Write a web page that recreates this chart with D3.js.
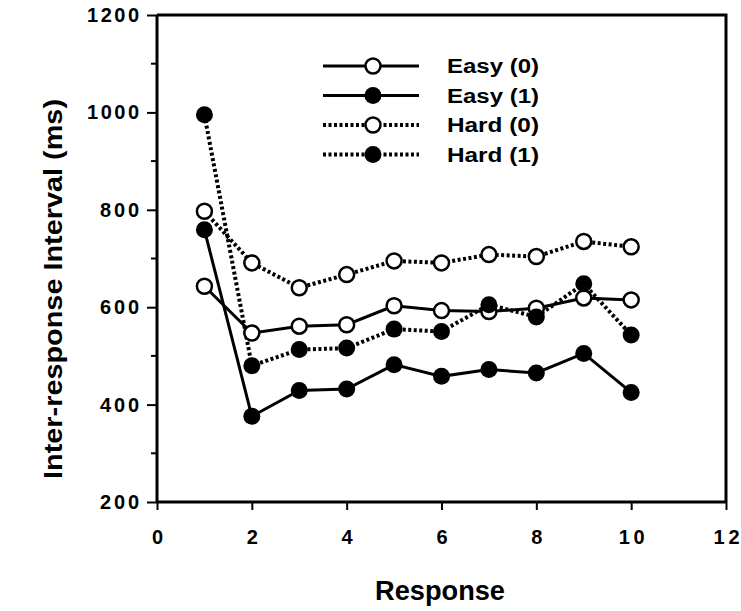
<!DOCTYPE html>
<html>
<head>
<meta charset="utf-8">
<script src="https://cdn.jsdelivr.net/npm/d3@7"></script>
<style>
  body { margin: 0; background: #fff; }
  text { font-family: "Liberation Sans", Arial, sans-serif; font-weight: bold; fill: #000; }
</style>
</head>
<body>
<svg id="chart" width="741" height="611"></svg>
<script>
// response number 1..10
const responses = [1, 2, 3, 4, 5, 6, 7, 8, 9, 10];

// inter-response intervals (ms)
const easy0 = [643, 547, 561, 564, 603, 593, 591, 598, 619, 615];
const easy1 = [759, 376, 429, 432, 482, 458, 472, 465, 505, 425];
const hard0 = [797, 691, 640, 667, 695, 691, 708, 704, 735, 724];
const hard1 = [995, 480, 513, 516, 555, 550, 605, 580, 648, 543];

const seriesNames = ["Easy (0)", "Easy (1)", "Hard (0)", "Hard (1)"];
const xTicks = [0, 2, 4, 6, 8, 10, 12];
const yTicks = [200, 400, 600, 800, 1000, 1200];
const yMinor = [300, 500, 700, 900, 1100];

const series = [
  {name: seriesNames[0], values: easy0, filled: false, dotted: false},
  {name: seriesNames[1], values: easy1, filled: true, dotted: false},
  {name: seriesNames[2], values: hard0, filled: false, dotted: true},
  {name: seriesNames[3], values: hard1, filled: true, dotted: true}
];

const svg = d3.select("#chart");
const pLeft = 157, pRight = 726, pTop = 15, pBottom = 502;

const x = d3.scaleLinear().domain([0, 12]).range([pLeft, pRight]);
const y = d3.scaleLinear().domain([200, 1200]).range([pBottom, pTop]);

// frame (top and right)
svg.append("path")
  .attr("d", `M${pLeft},${pTop}H${pRight}V${pBottom}`)
  .attr("fill", "none").attr("stroke", "#000").attr("stroke-width", 3);

// y axis
const yAxis = svg.append("g")
  .attr("transform", `translate(${pLeft},0)`)
  .call(d3.axisLeft(y).tickValues(yTicks).tickFormat(d3.format("d")).tickSize(10).tickPadding(8));
yAxis.append("g").selectAll("line").data(yMinor).join("line")
  .attr("x1", -6).attr("x2", 0)
  .attr("y1", d => y(d)).attr("y2", d => y(d))
  .attr("stroke", "#000").attr("stroke-width", 2);

// x axis
const xAxis = svg.append("g")
  .attr("transform", `translate(0,${pBottom})`)
  .call(d3.axisBottom(x).tickValues(xTicks).tickSize(8).tickPadding(20));

[yAxis, xAxis].forEach(g => {
  g.attr("font-size", 20).attr("font-family", "'Liberation Sans', Arial, sans-serif");
  g.select(".domain").attr("stroke-width", 3).attr("d",
    g === yAxis ? `M0,${pTop}V${pBottom}` : `M${pLeft},0H${pRight}`);
  g.selectAll(".tick line").attr("stroke-width", 2);
  g.selectAll(".tick text")
    .attr("font-size", 20)
    .attr("font-weight", "bold")
    .attr("textLength", d => String(d).length * 13)
    .attr("lengthAdjust", "spacing");
});

// axis titles
svg.append("text")
  .attr("transform", `translate(62,289) rotate(-90)`)
  .attr("text-anchor", "middle")
  .attr("font-size", 26)
  .attr("textLength", 380)
  .attr("lengthAdjust", "spacingAndGlyphs")
  .text("Inter-response Interval (ms)");

svg.append("text")
  .attr("x", 440).attr("y", 600)
  .attr("text-anchor", "middle")
  .attr("font-size", 27)
  .attr("textLength", 130)
  .attr("lengthAdjust", "spacingAndGlyphs")
  .text("Response");

const line = d3.line()
  .x((d, i) => x(responses[i]))
  .y(d => y(d));

// lines first, then markers on top
series.forEach(s => {
  svg.append("path")
    .datum(s.values)
    .attr("d", line)
    .attr("fill", "none")
    .attr("stroke", "#000")
    .attr("stroke-width", s.dotted ? 4 : 3)
    .attr("stroke-dasharray", s.dotted ? "3,2.5" : null);
});

series.forEach(s => {
  svg.append("g").selectAll("circle")
    .data(s.values)
    .join("circle")
    .attr("cx", (d, i) => x(responses[i]))
    .attr("cy", d => y(d))
    .attr("r", s.filled ? 8.5 : 7.5)
    .attr("fill", s.filled ? "#000" : "#fff")
    .attr("stroke", "#000")
    .attr("stroke-width", s.filled ? 0 : 2.5);
});

// legend
const legend = svg.append("g");
series.forEach((s, i) => {
  const ly = 66 + i * 29.5;
  legend.append("line")
    .attr("x1", 323).attr("x2", 419).attr("y1", ly).attr("y2", ly)
    .attr("stroke", "#000")
    .attr("stroke-width", s.dotted ? 4 : 3)
    .attr("stroke-dasharray", s.dotted ? "3,2.5" : null);
  legend.append("circle")
    .attr("cx", 373).attr("cy", ly)
    .attr("r", s.filled ? 8.5 : 7.5)
    .attr("fill", s.filled ? "#000" : "#fff")
    .attr("stroke", "#000")
    .attr("stroke-width", s.filled ? 0 : 2.5);
  legend.append("text")
    .attr("x", 447).attr("y", ly + 7)
    .attr("font-size", 20)
    .attr("font-weight", 600)
    .attr("textLength", 92)
    .attr("lengthAdjust", "spacingAndGlyphs")
    .text(s.name);
});
</script>
</body>
</html>
